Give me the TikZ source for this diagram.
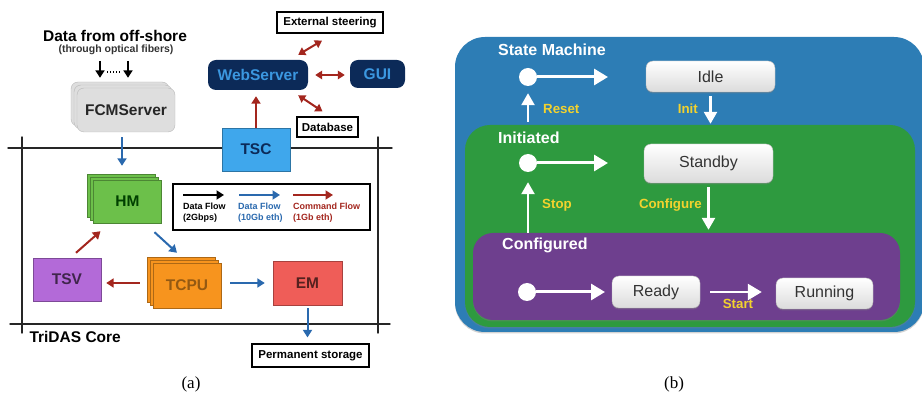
\documentclass[tikz,border=0pt]{standalone}
\usepackage{fontspec}
\setmainfont{Liberation Sans}
\newfontfamily\capfont{Liberation Serif}
\usepackage{tikz}
\usetikzlibrary{positioning,shadows,arrows.meta}
\definecolor{fcmgray}{HTML}{DEDEDE}
\definecolor{hmgreen}{HTML}{6CC04A}
\definecolor{tcpuorange}{HTML}{F7941E}
\definecolor{tsvpurple}{HTML}{B36AD8}
\definecolor{emred}{HTML}{EF5D58}
\definecolor{tscblue}{HTML}{3FA7EC}
\definecolor{webnavy}{HTML}{0C2A58}
\definecolor{webtext}{HTML}{3B97E0}
\definecolor{flowblue}{HTML}{2A69AE}
\definecolor{flowred}{HTML}{A3261E}
\definecolor{smblue}{HTML}{2D7DB5}
\definecolor{smgreen}{HTML}{2E9A3F}
\definecolor{smpurple}{HTML}{6E3F8E}
\definecolor{smyellow}{HTML}{F2D22E}
\newcommand{\boxfont}{\fontsize{15.5}{18}\selectfont\bfseries}
\newcommand{\smallboxfont}{\fontsize{11.5}{14}\selectfont\bfseries}
\newcommand{\legendfont}{\fontsize{9}{11}\selectfont\bfseries}
\newcommand{\statefont}{\fontsize{16}{19}\selectfont}
\newcommand{\labelfont}{\fontsize{13.3}{16}\selectfont\bfseries}

\begin{document}
\begin{tikzpicture}[x=1pt,y=-1pt,
    unit/.style={draw=#1!70!black, fill=#1, minimum width=68pt, minimum height=43pt,
      inner sep=0pt, font=\boxfont},
    stacked/.style={double copy shadow={shadow xshift=-3pt, shadow yshift=3pt}},
    outbox/.style={draw=black, line width=1.2pt, fill=white, inner sep=0pt, font=\smallboxfont},
    navybox/.style={fill=webnavy, rounded corners=8pt, inner sep=0pt, text=webtext, font=\boxfont},
    frame/.style={line width=1.4pt, black!85, line cap=round},
    blackarr/.style={line width=2pt, black, -{Triangle[length=7.5pt,width=9pt]}},
    bluearr/.style={line width=2pt, flowblue, -{Triangle[length=7.5pt,width=9pt]}},
    redarr/.style={line width=2pt, flowred, -{Triangle[length=7.5pt,width=9pt]}},
    redboth/.style={line width=2pt, flowred, {Triangle[length=7pt,width=8.5pt]}-{Triangle[length=7pt,width=8.5pt]}},
    region/.style={inner sep=0pt, drop shadow={shadow xshift=0pt, shadow yshift=-1.5pt, opacity=.35}},
    state/.style={draw=gray!55, top color=white, bottom color=gray!28, rounded corners=7pt,
      inner sep=0pt, text=black!80, font=\statefont,
      drop shadow={shadow xshift=0pt, shadow yshift=-1.5pt, opacity=.4}},
    startdot/.style={circle, fill=white, minimum size=18pt, inner sep=0pt},
    smarrow/.style={draw=white, line width=3pt, -{Triangle[length=14pt,width=16pt]}},
    smvarrow/.style={draw=white, line width=2.5pt, -{Triangle[length=12pt,width=13pt]}},
    smlabel/.style={text=smyellow, font=\labelfont, inner sep=0pt},
    regtitle/.style={text=white, font=\statefont\bfseries, inner sep=0pt}]
  \useasboundingbox (0,0) rectangle (922,395);

  % (a) TriDAS
  \node[font=\fontsize{15.5}{18}\selectfont\bfseries] (offshore) at (115,36) {Data from off-shore};
  \node[font=\fontsize{10.5}{12}\selectfont\bfseries, text=black!80] (fibers) at (116,50) {(through optical fibers)};
  \node[fill=fcmgray, draw=gray!55, rounded corners=7pt, stacked, minimum width=98pt,
    minimum height=44pt, font=\boxfont, text=black!85] (fcm) at (126,110) {FCMServer};
  \coordinate (in1) at (100,61);
  \coordinate (in2) at (128,61);
  \draw[blackarr, shorten >=10pt] (in1) -- (in1 |- fcm.north);
  \draw[blackarr, shorten >=10pt] (in2) -- (in2 |- fcm.north);
  \draw[line width=1.2pt, dash pattern=on 1.2pt off 1.8pt] ([xshift=7pt,yshift=-11pt]in1) -- ([xshift=-7pt,yshift=-11pt]in2);

  % the core frame
  \draw[frame] (8,148) -- (392,148);
  \draw[frame] (10,324) -- (390,324);
  \draw[frame] (22,137) -- (22,333);
  \draw[frame] (378,137) -- (378,333);
  \node[font=\boxfont, anchor=west] (core) at (26,337) {TriDAS Core};

  \node[unit=tscblue, text=webnavy] (tsc) at (256,149.5) {TSC};
  \node[navybox, minimum width=100pt, minimum height=30pt] (web) at (258,75) {WebServer};
  \node[navybox, minimum width=55pt, minimum height=28pt] (gui) at (377.5,74) {GUI};
  \node[outbox, minimum width=106pt, minimum height=21pt] (ext) at (330,22.5) {External steering};
  \node[outbox, minimum width=61pt, minimum height=20pt] (db) at (327.5,127) {Database};

  \node[unit=hmgreen, stacked, text=green!25!black] (hm) at (127.5,201.5) {HM};
  \node[unit=tsvpurple, text=tsvpurple!35!black] (tsv) at (67,279.5) {TSV};
  \node[unit=tcpuorange, stacked, minimum height=45pt, text=tcpuorange!60!black] (tcpu) at (187,285.5) {TCPU};
  \node[unit=emred, minimum width=69pt, minimum height=44pt, text=emred!35!black] (em) at (307.5,283) {EM};
  \node[outbox, minimum width=117pt, minimum height=23pt] (perm) at (310.5,355.5) {Permanent storage};

  % Legend
  \node[draw=black, line width=1.6pt, minimum width=197pt, minimum height=46pt] (legend) at (271.5,207) {};
  \node[font=\legendfont, align=left, anchor=north west, inner sep=0pt] (legblack) at (183,203) {Data Flow\\(2Gbps)};
  \node[font=\legendfont, align=left, anchor=north west, inner sep=0pt, text=flowblue] (legblue) at (238,203) {Data Flow\\(10Gb eth)};
  \node[font=\legendfont, align=left, anchor=north west, inner sep=0pt, text=flowred] (legred) at (293,203) {Command Flow\\(1Gb eth)};
  \draw[blackarr] ([yshift=8pt]legblack.north west) -- ([yshift=8pt,xshift=41pt]legblack.north west);
  \draw[bluearr] ([yshift=8pt,xshift=1pt]legblue.north west) -- ([yshift=8pt,xshift=42pt]legblue.north west);
  \draw[redarr] ([yshift=8pt]legred.north west) -- ([yshift=8pt,xshift=40pt]legred.north west);

  % Flows
  \draw[bluearr, shorten <=5pt, shorten >=14pt] ([xshift=-4pt]fcm.south) -- ([xshift=-4pt]fcm.south |- hm.north);
  \draw[redarr, shorten >=6pt] (tsc.north) -- (tsc.north |- web.south);
  \draw[redboth] ([xshift=-10pt,yshift=5pt]web.north east) -- ([xshift=-8pt,yshift=-7pt]ext.south);
  \draw[redboth, shorten <=7pt, shorten >=5pt] (web.east) -- (web.east -| gui.west);
  \draw[redboth] ([xshift=-10pt,yshift=-5pt]web.south east) -- ([xshift=-5pt,yshift=5pt]db.north);
  \draw[redarr] ([xshift=9pt,yshift=5pt]tsv.north) -- ([xshift=-27pt,yshift=-8pt]hm.south);
  \draw[bluearr] ([xshift=27pt,yshift=-9pt]hm.south) -- ([xshift=-10pt,yshift=10pt]tcpu.north);
  \draw[redarr, shorten <=13pt, shorten >=5pt] ([yshift=2.5pt]tcpu.west) -- ([yshift=2.5pt]tcpu.west -| tsv.east);
  \draw[bluearr, shorten <=9pt, shorten >=8pt] (tcpu.east |- em.west) -- (em.west);
  \draw[bluearr, shorten <=3pt, shorten >=6pt] (em.south) -- (em.south |- perm.north);

  \node[font=\capfont\fontsize{17}{20}\selectfont] (capa) at (191,384) {(a)};

  % (b) State machine
  \node[region, fill=smblue, rounded corners=30pt, minimum width=469pt, minimum height=295pt] (regSM) at (689.5,184.5) {};
  \node[region, fill=smgreen, rounded corners=25pt, minimum width=450pt, minimum height=202pt] (regInit) at (690,226) {};
  \node[region, fill=smpurple, rounded corners=20pt, minimum width=427pt, minimum height=87pt] (regConf) at (686.5,276.5) {};
  \node[regtitle, anchor=west] at (498,50) {State Machine};
  \node[regtitle, anchor=west] at (498,138) {Initiated};
  \node[regtitle, anchor=west] at (502,245) {Configured};

  \node[state, minimum width=129pt, minimum height=31pt] (idle) at (710.5,76.5) {Idle};
  \node[state, minimum width=129pt, minimum height=39pt] (standby) at (708.5,163.5) {Standby};
  \node[state, minimum width=88pt, minimum height=32pt] (ready) at (656,292) {Ready};
  \node[state, minimum width=97pt, minimum height=31pt] (running) at (824.5,293.5) {Running};

  \node[startdot] (dotA) at (528,77) {};
  \node[startdot] (dotB) at (528,163) {};
  \node[startdot] (dotC) at (527,292) {};
  \coordinate (tipA) at (608,77);
  \coordinate (tipB) at (608,163);
  \coordinate (tipC) at (605,292);
  \draw[smarrow] (dotA) -- (tipA);
  \draw[smarrow] (dotB) -- (tipB);
  \draw[smarrow] (dotC) -- (tipC);

  % Transitions
  \draw[smvarrow, shorten <=3pt, shorten >=7pt] (regInit.north -| dotA) -- (dotA);
  \draw[smvarrow, shorten <=4pt, shorten >=1pt] (idle.south) -- (idle.south |- regInit.north);
  \draw[smvarrow, shorten >=10pt] (regConf.north -| dotB) -- (dotB);
  \draw[smvarrow, shorten <=4pt, shorten >=3pt] (standby.south) -- (standby.south |- regConf.north);
  \draw[smarrow, line width=2.5pt, shorten <=10pt, shorten >=14pt] (ready.east) -- (ready.east -| running.west);
  \node[smlabel, anchor=west] (reset) at (543,109) {Reset};
  \node[smlabel, anchor=east] (init) at (698,109) {Init};
  \node[smlabel, anchor=west] (stop) at (542,205) {Stop};
  \node[smlabel, anchor=east] (configure) at (702,205) {Configure};
  \node[smlabel] (start) at (738,304) {Start};

  \node[font=\capfont\fontsize{17}{20}\selectfont] (capb) at (674,384) {(b)};
\end{tikzpicture}
\end{document}
